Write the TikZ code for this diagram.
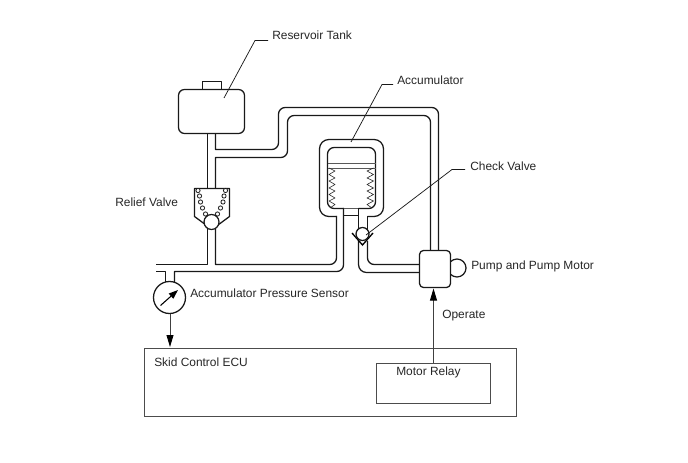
\documentclass[tikz,border=0pt]{standalone}
\usepackage{fontspec}
\setmainfont{Liberation Sans}
\usetikzlibrary{arrows.meta}
\tikzset{
 x=0.75pt,y=-0.75pt,
 pipe/.style={line width=0.95pt,line join=round,black!90},
 thinl/.style={line width=0.6pt,black!65},
 leader/.style={line width=0.55pt,black!90},
 lab/.style={inner sep=0pt,anchor=west,font=\fontsize{8.95pt}{10pt}\selectfont,text=black!85},
 box/.style={draw,line width=0.6pt,black!70,fill=none,inner sep=0pt},
 sig/.style={line width=0.65pt,black!75,-{Triangle[length=9pt,width=5.2pt,black]}},
 coil/.style={line width=0.6pt,black!90,fill=white},
 spr/.style={line width=0.45pt,black!85,line join=round}
}
\begin{document}
\begin{tikzpicture}
\useasboundingbox (0,0) rectangle (688,463);
% reservoir
\draw[pipe] (202.5,89) |- (221.5,81.5) -- (221.5,89);
\draw[pipe,rounded corners=4.5pt] (178.5,89.5) rectangle (244.5,133.5);
\draw[pipe] (207.5,133.5) -- (207.5,188.5);
\draw[pipe] (215.5,133.5) -- (215.5,149.5) -- (240,149.5) [rounded corners=5pt] -- (278.5,149.5) -- (278.5,107.5) -- (438.5,107.5) -- (438.5,250);
\draw[pipe] (215.5,188.5) -- (215.5,157.5) -- (240,157.5) [rounded corners=5pt] -- (287.5,157.5) -- (287.5,115.5) -- (430.5,115.5) -- (430.5,250);
% relief valve
\draw[pipe] (206,225) -- (194.5,216.5) -- (194.5,188.5) -- (229.5,188.5) -- (229.5,216.5) -- (218,225);
\foreach \p in {(198,190.5),(199.5,196),(200.5,202),(202.5,208),(205.5,214),(225.5,190.5),(224,196),(223,202),(220.5,208),(217.5,214)}
  \draw[coil] \p circle (2.1);
\draw[pipe,fill=white] (211.5,222) circle (7.5);
% lower line
\draw[pipe] (156,264.5) -- (207.5,264.5) -- (207.5,229);
\draw[pipe] (215.5,229) -- (215.5,264.5) -- (240,264.5) [rounded corners=5pt] -- (336.5,264.5) -- (336.5,216);
\draw[pipe] (156,271.5) -- (165.5,271.5) -- (165.5,283);
\draw[pipe] (174.5,283) -- (174.5,271.5) -- (240,271.5) [rounded corners=5pt] -- (343.5,271.5) -- (343.5,208);
% gauge
\draw[pipe,fill=white] (169.5,297.5) circle (16);
\draw[line width=0.8pt,-{Triangle[length=7pt,width=5pt]}] (160.5,305.5) -- (178,290);
\node[lab] (sensorL) at (190,293) {Accumulator Pressure Sensor};
\coordinate (gaugeB) at (170,313.5);
\coordinate (ecuA) at (170,347);
\draw[sig] (gaugeB) -- (ecuA);
% accumulator
\draw[pipe,rounded corners=7pt] (336.5,216.5) -- (319.5,216.5) -- (319.5,139.5) -- (383.5,139.5) -- (383.5,216.5) -- (367.5,216.5);
\draw[pipe,rounded corners=5pt] (343.5,208.5) -- (327.5,208.5) -- (327.5,147.5) -- (375.5,147.5) -- (375.5,208.5) -- (358.5,208.5);
\draw[thinl] (343.5,208.5) -- (358.5,208.5);
\draw[pipe] (343.5,215.5) -- (358.5,215.5);
\draw[thinl] (327.5,163) -- (375.5,163);
\draw[thinl] (327.5,168) -- (375.5,168);
\draw[spr] (329,168) -- (335,171) -- (329,174.5) -- (335,178) -- (329,181) -- (335,184.5) -- (329,188) -- (335,191) -- (329,194.5) -- (335,198) -- (329,201) -- (335,204.5) -- (330,208);
\draw[spr] (373.5,168) -- (367,171) -- (373.5,174.5) -- (367,178) -- (373.5,181) -- (367,184.5) -- (373.5,188) -- (367,191) -- (373.5,194.5) -- (367,198) -- (373.5,201) -- (367,204.5) -- (372,208);
% check valve & pipe to pump
\draw[pipe] (358.5,208) -- (358.5,229);
\draw[pipe] (367.5,216) -- (367.5,229);
\draw[pipe,rounded corners=6pt] (358.5,241) -- (358.5,272.5) -- (419,272.5);
\draw[pipe,rounded corners=5pt] (367.5,241) -- (367.5,264.5) -- (419,264.5);
\draw[line width=1pt] (352,233) -- (362.5,245) -- (373,233);
\draw[pipe,fill=white] (362.5,234) circle (6.5);
% pump
\draw[pipe] (457,268) circle (9);
\draw[pipe,fill=white,rounded corners=3pt] (419.5,250.5) rectangle (450.5,287.5);
% ECU
\draw[box] (144.5,348.5) rectangle (516.5,416.5);
\draw[box] (376.5,363.5) rectangle (490.5,403.5);
\coordinate (relayT) at (433.5,363);
\coordinate (pumpB) at (433.5,288.5);
\draw[sig] (relayT) -- (pumpB);
% leaders
\draw[leader] (268,40.5) -- (255,40.5) -- (224,98);
\draw[leader] (393,84.5) -- (382,84.5) -- (351,142);
\draw[leader] (465,169.5) -- (452,169.5) -- (366,235);
% labels
\node[lab] at (272,35) {Reservoir Tank};
\node[lab] at (397,80) {Accumulator};
\node[lab] at (470,166) {Check Valve};
\node[lab] at (115,202) {Relief Valve};
\node[lab] at (471,266.5) {Pump and Pump Motor};
\node[lab] at (442,316) {Operate};
\node[lab] at (154,362) {Skid Control ECU};
\node[lab] at (396,372) {Motor Relay};
\end{tikzpicture}
\end{document}
